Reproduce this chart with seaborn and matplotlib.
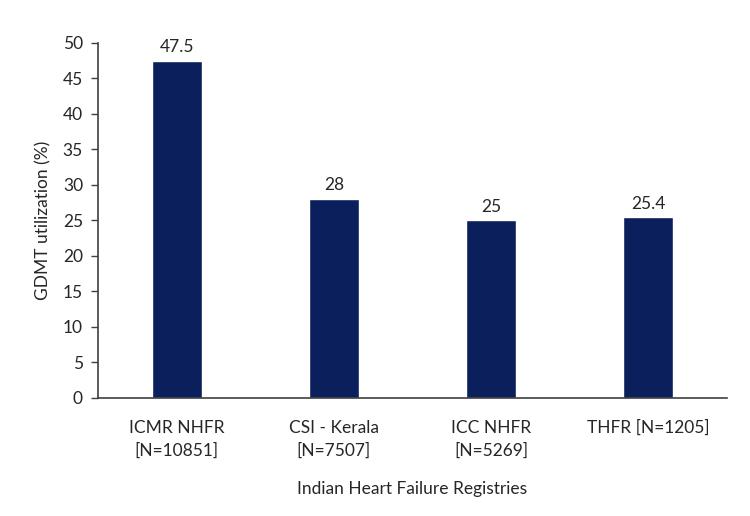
import matplotlib
matplotlib.use("Agg")
import matplotlib.pyplot as plt
import pandas as pd
import seaborn as sns

registries = ["ICMR NHFR\n[N=10851]", "CSI - Kerala\n[N=7507]", "ICC NHFR\n[N=5269]", "THFR [N=1205]"]
gdmt_pct = [47.5, 28, 25, 25.4]
value_labels = ["47.5", "28", "25", "25.4"]
y_ticks = [0, 5, 10, 15, 20, 25, 30, 35, 40, 45, 50]

sns.set_theme(style="white")
plt.rcParams["font.family"] = ["Lato", "DejaVu Sans"]

df = pd.DataFrame({"registry": registries, "pct": gdmt_pct})

fig = plt.figure(figsize=(7.5, 5.16), dpi=100)
ax = fig.add_axes([0.131, 0.229, 0.838, 0.688])

sns.barplot(data=df, x="registry", y="pct", color="#0a1f5c", width=0.32,
            saturation=1, ax=ax)

for i, (v, lab) in enumerate(zip(gdmt_pct, value_labels)):
    ax.text(i, v + 0.8, lab, ha="center", va="bottom", fontsize=12.5, color="#262626")

ax.set_ylim(0, 50)
ax.set_xlim(-0.5, 3.5)
ax.set_yticks(y_ticks)
ax.tick_params(axis="y", direction="out", length=5, width=1, color="#404040",
               labelsize=12.5, labelcolor="#262626", pad=6, left=True)
ax.tick_params(axis="x", length=0, labelsize=12.5, labelcolor="#262626", pad=16)
for t in ax.get_xticklabels():
    t.set_linespacing(1.5)
ax.set_ylabel("GDMT utilization (%)", fontsize=12.5, color="#262626", labelpad=8)
ax.set_xlabel("Indian Heart Failure Registries", fontsize=12.5, color="#262626", labelpad=16)

sns.despine(ax=ax)
for s in ["left", "bottom"]:
    ax.spines[s].set_color("#404040")
    ax.spines[s].set_linewidth(1.2)

fig.savefig("out.png", dpi=100)
